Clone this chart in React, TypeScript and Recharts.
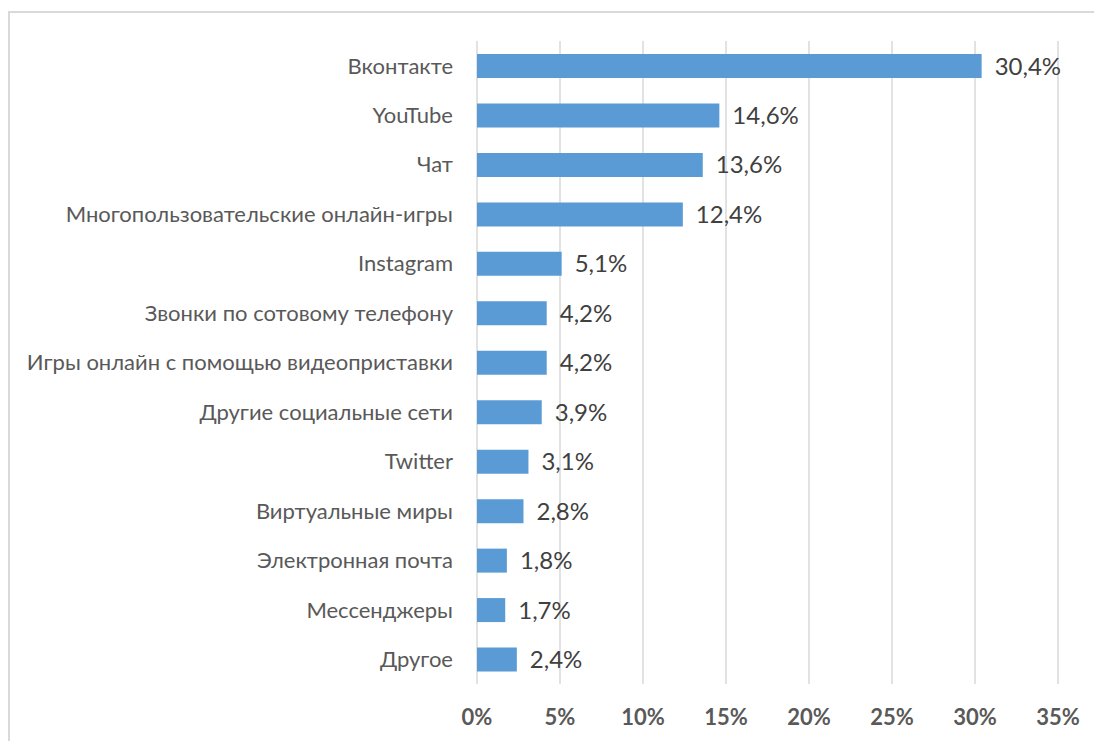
import { BarChart, Bar, XAxis, YAxis, CartesianGrid, LabelList } from "recharts";

const categories = [
  "Вконтакте",
  "YouTube",
  "Чат",
  "Многопользовательские онлайн-игры",
  "Instagram",
  "Звонки по сотовому телефону",
  "Игры онлайн с помощью видеоприставки",
  "Другие социальные сети",
  "Twitter",
  "Виртуальные миры",
  "Электронная почта",
  "Мессенджеры",
  "Другое",
];

const shares = [30.4, 14.6, 13.6, 12.4, 5.1, 4.2, 4.2, 3.9, 3.1, 2.8, 1.8, 1.7, 2.4];

const xTicks = [0, 5, 10, 15, 20, 25, 30, 35];

const data = categories.map((name, i) => ({ name, value: shares[i] }));

const font = "Lato, sans-serif";

export default function App() {
  return (
    <div style={{ position: "absolute", left: 0, top: 0, width: 1094, height: 741, background: "#fff", overflow: "hidden" }}>
      <div
        style={{
          position: "absolute",
          left: 8,
          top: 11,
          width: 1200,
          height: 800,
          borderLeft: "2px solid #d9d9d9",
          borderTop: "2px solid #d9d9d9",
        }}
      />
      <div style={{ position: "absolute", left: 0, top: 0 }}>
        <BarChart
          width={1094}
          height={741}
          data={data}
          layout="vertical"
          margin={{ top: 41, right: 36, bottom: 0, left: 0 }}
          barSize={24}
        >
          <CartesianGrid horizontal={false} stroke="#d9d9d9" strokeWidth={1.5} />
          <XAxis
            type="number"
            domain={[0, 35]}
            ticks={xTicks}
            tickFormatter={(v: number) => `${v}%`}
            axisLine={false}
            tickLine={false}
            tickSize={0}
            tickMargin={25}
            height={57}
            tick={{ fill: "#595959", fontSize: 22, fontWeight: 700, fontFamily: font }}
          />
          <YAxis
            type="category"
            dataKey="name"
            width={477}
            axisLine={false}
            tickLine={false}
            tickSize={0}
            tickMargin={24}
            interval={0}
            tick={{ fill: "#595959", fontSize: 22, fontFamily: font }}
          />
          <Bar dataKey="value" fill="#5b9bd5" isAnimationActive={false}>
            <LabelList
              dataKey="value"
              position="right"
              offset={13}
              formatter={(v: number) => `${v.toFixed(1).replace(".", ",")}%`}
              style={{ fill: "#404040", fontSize: 24, fontFamily: font }}
            />
          </Bar>
        </BarChart>
      </div>
    </div>
  );
}
